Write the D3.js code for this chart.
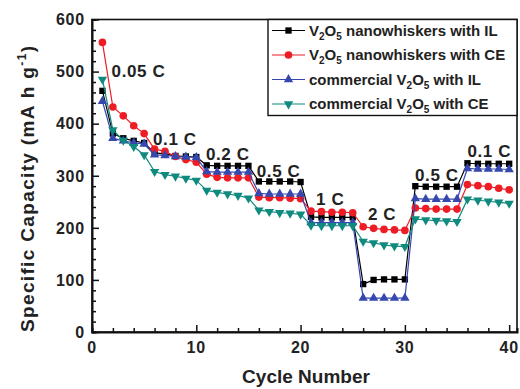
<!DOCTYPE html>
<html><head><meta charset="utf-8">
<script src="https://cdn.jsdelivr.net/npm/d3@7"></script>
<style>body{margin:0;background:#fff}svg{display:block}text{font-family:"Liberation Sans",Arial,sans-serif;font-weight:bold;fill:#222}</style>
</head><body>
<svg id="c" width="520" height="389"></svg>
<script>
const cycles = d3.range(1, 41);
const nanoIL = [463,381,372,367,363, 344,342,338,337,336, 320,319,319,319,319, 289,289,289,289,288, 221,220,220,220,220, 92,100,101,101,101, 280,279,279,279,279, 324,323,323,323,323];
const nanoCE = [556,432,415,396,381, 351,347,337,331,326, 303,297,296,296,296, 259,258,258,257,256, 232,231,230,230,229, 202,199,197,196,195, 238,237,236,236,236, 283,281,279,276,273];
const commIL = [443,372,367,363,361, 340,339,337,336,335, 308,307,307,307,307, 266,265,265,265,265, 210,210,210,210,210, 65,65,65,65,65, 256,255,255,255,255, 314,313,313,313,312];
const commCE = [485,388,368,356,340, 308,302,299,295,291, 272,268,265,262,257, 234,231,229,228,226, 205,204,204,204,204, 174,171,167,165,164, 217,215,214,213,212, 255,253,251,249,247];
const seriesNames = ["nanoIL","nanoCE","commIL","commCE"];
const rateLabels = ["0.05 C","0.1 C","0.2 C","0.5 C","1 C","2 C","0.5 C","0.1 C"];
const rateLabelCycle = [1.88, 5.85, 10.93, 15.8, 21.48, 26.46, 30.97, 36.0];
const rateLabelCap = [490, 359, 330, 298, 244, 215, 290, 336];
const xTicks = [0,10,20,30,40];
const yTicks = [0,100,200,300,400,500,600];

const svg = d3.select("#c");
const x = d3.scaleLinear().domain([0, 40.75]).range([92, 517]);
const y = d3.scaleLinear().domain([0, 600]).range([332, 19.5]);

const styles = {
  nanoIL: {color:"#000000", sym:d3.symbolSquare, size:40, rot:0, data:nanoIL},
  nanoCE: {color:"#ee1c24", sym:d3.symbolCircle, size:46, rot:0, data:nanoCE},
  commIL: {color:"#3647ad", sym:d3.symbolTriangle, size:38, rot:0, data:commIL},
  commCE: {color:"#0f8a7e", sym:d3.symbolTriangle, size:38, rot:180, data:commCE}
};
const legendText = [
  [["V",""],["2","sub"],["O",""],["5","sub"],[" nanowhiskers with IL",""]],
  [["V",""],["2","sub"],["O",""],["5","sub"],[" nanowhiskers with CE",""]],
  [["commercial V",""],["2","sub"],["O",""],["5","sub"],[" with IL",""]],
  [["commercial V",""],["2","sub"],["O",""],["5","sub"],[" with CE",""]]
];

// frame
svg.append("rect").attr("x", x(0)).attr("y", y(600)).attr("width", x(40.75)-x(0)).attr("height", y(0)-y(600))
  .attr("fill","none").attr("stroke","#111").attr("stroke-width",1.6);

// axes
const xAxis = d3.axisBottom(x).tickValues(d3.range(0, 41, 2)).tickSize(-4).tickFormat("");
const gx = svg.append("g").attr("transform",`translate(0,${y(0)})`).call(xAxis);
gx.selectAll(".tick line").attr("y2", d => d % 10 === 0 ? -7 : -4).attr("stroke","#111").attr("stroke-width",1.5);
gx.select(".domain").attr("stroke","#111").attr("stroke-width",2);
const yAxis = d3.axisLeft(y).tickValues(d3.range(0, 601, 20)).tickSize(-4).tickFormat("");
const gy = svg.append("g").attr("transform",`translate(${x(0)},0)`).call(yAxis);
gy.selectAll(".tick line").attr("x2", d => d % 100 === 0 ? 7 : 4).attr("stroke","#111").attr("stroke-width",1.5);
gy.select(".domain").attr("stroke","#111").attr("stroke-width",2);

// tick labels
svg.append("g").selectAll("text").data(xTicks).join("text")
  .attr("x", d => x(d)).attr("y", 353).attr("text-anchor","middle")
  .attr("font-size", 16).attr("letter-spacing", 0.8).text(d => d);
svg.append("g").selectAll("text").data(yTicks).join("text")
  .attr("x", 85).attr("y", d => y(d)).attr("dy","0.36em").attr("text-anchor","end")
  .attr("font-size", 16).attr("letter-spacing", 0.8).text(d => d);

// axis titles
svg.append("text").attr("x", 306).attr("y", 383).attr("text-anchor","middle")
  .attr("font-size", 19).text("Cycle Number");
const yl = svg.append("text").attr("transform","translate(34,189) rotate(-90)").attr("text-anchor","middle")
  .attr("font-size", 19).attr("textLength", 286).attr("lengthAdjust","spacing");
yl.append("tspan").text("Specific Capacity (mA h g");
yl.append("tspan").attr("font-size", 12).attr("dy", -8).text("-1");
yl.append("tspan").attr("dy", 8).text(")");

// series
const line = d3.line().x((d,i) => x(cycles[i])).y(d => y(d));
seriesNames.forEach(name => {
  const s = styles[name];
  svg.append("path").datum(s.data).attr("d", line).attr("fill","none")
    .attr("stroke", s.color).attr("stroke-width", 1.2);
  svg.append("g").selectAll("path").data(s.data).join("path")
    .attr("d", d3.symbol().type(s.sym).size(s.size))
    .attr("transform", (d,i) => `translate(${x(cycles[i])},${y(d)}) rotate(${s.rot})`)
    .attr("fill", s.color);
});

// rate labels
svg.append("g").selectAll("text").data(rateLabels).join("text")
  .attr("x", (d,i) => x(rateLabelCycle[i])).attr("y", (d,i) => y(rateLabelCap[i]))
  .attr("font-size", 17).attr("letter-spacing", 0.6).text(d => d);

// legend
const lg = svg.append("g");
lg.append("rect").attr("x", 268).attr("y", y(600)).attr("width", 249).attr("height", 96)
  .attr("fill","#fff").attr("stroke","#111").attr("stroke-width",1.4);
seriesNames.forEach((name, i) => {
  const s = styles[name];
  const cy = 30.5 + i * 24.5;
  lg.append("line").attr("x1", 272).attr("x2", 305).attr("y1", cy).attr("y2", cy)
    .attr("stroke", s.color).attr("stroke-width", 1.2);
  lg.append("path").attr("d", d3.symbol().type(s.sym).size(s.size))
    .attr("transform", `translate(288.5,${cy}) rotate(${s.rot})`).attr("fill", s.color);
  const t = lg.append("text").attr("x", 309).attr("y", cy + 5.3).attr("font-size", 15);
  legendText[i].forEach(([str, kind]) => {
    const ts = t.append("tspan").text(str);
    if (kind === "sub") ts.attr("font-size", 10).attr("dy", 4);
    else if (t.selectAll("tspan").size() > 1) ts.attr("dy", -4);
  });
});
</script>
</body></html>
